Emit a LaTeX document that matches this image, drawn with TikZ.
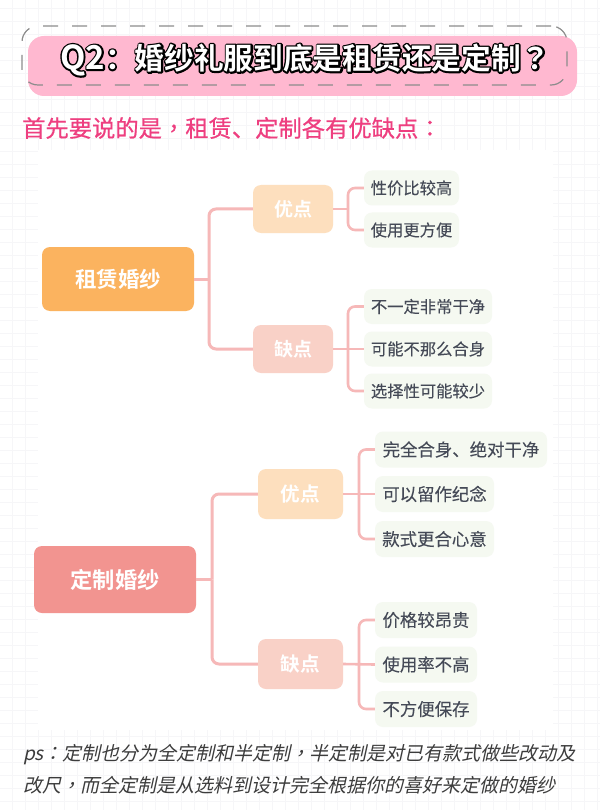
\documentclass[tikz,border=0pt]{standalone}
\usepackage{fontspec}
\setmainfont{Noto Sans CJK SC}
\newfontfamily\cjkb{Noto Sans CJK SC Bold}
\newfontfamily\tcb{Noto Sans CJK TC Bold}
\newfontfamily\cjksub[FakeBold=0.6]{Noto Sans CJK SC}
\newfontfamily\tcsub[FakeBold=0.6]{Noto Sans CJK TC}
\newfontfamily\cjkit[FakeSlant=0.22]{Noto Sans CJK SC}
\newfontfamily\tcit[FakeSlant=0.22]{Noto Sans CJK TC}
\newfontfamily\cjkleaf[FakeBold=0.12]{Noto Sans CJK SC}
\definecolor{pinkbar}{HTML}{FFB8D0}
\definecolor{dashgray}{HTML}{8C8C8C}
\definecolor{subpink}{HTML}{EE3F80}
\definecolor{rootA}{HTML}{FBB35F}
\definecolor{rootB}{HTML}{F29490}
\definecolor{goodc}{HTML}{FDDFBE}
\definecolor{badc}{HTML}{F9D1C7}
\definecolor{leafc}{HTML}{F5F9F1}
\definecolor{connc}{HTML}{F6B8B8}
\definecolor{leaft}{HTML}{454A57}
\definecolor{gridc}{HTML}{F6F6F8}
\definecolor{pstext}{HTML}{3C3C3C}
\newcommand{\titletext}{{\fontsize{33}{33}\selectfont Q2}：婚纱礼服到底是租赁还是定制{\tcb ？}}
\tikzset{
  x=1pt,y=-1pt,
  box/.style={rounded corners=#1,inner sep=0pt,align=center},
  rootbox/.style={box=8pt,text=white,font=\cjkb\fontsize{21.5}{24}\selectfont},
  midbox/.style={box=8pt,minimum width=80pt,minimum height=48pt,text=white,font=\cjkb\fontsize{19}{22}\selectfont},
  leafbox/.style={box=8pt,fill=leafc,minimum height=35pt,text=leaft,font=\cjkleaf\fontsize{16.3}{20}\selectfont},
  leafboxb/.style={box=8pt,fill=leafc,minimum height=36pt,text=leaft,font=\cjkleaf\fontsize{17.4}{20}\selectfont},
  conn/.style={draw=connc,line width=3pt,rounded corners=7pt},
  connleaf/.style={draw=connc,line width=2.6pt,rounded corners=7pt},
}
\begin{document}
\begin{tikzpicture}
\useasboundingbox (0,0) rectangle (600,810);
\fill[white] (0,0) rectangle (600,810);
% background grid
\foreach \g in {12,25,...,600} \draw[gridc,line width=0.7pt] (\g,0) -- (\g,810);
\foreach \g in {8,21,...,810} \draw[gridc,line width=0.7pt] (0,\g) -- (600,\g);
\fill[white] (38,150) rectangle (553,730);
% title
\node[rounded corners=16pt,fill=pinkbar,minimum width=549pt,minimum height=60pt,inner sep=0pt] (bar) at (302.5,66) {};
\node[draw=dashgray,line width=1.2pt,dash pattern=on 15pt off 14pt,rounded corners=16pt,minimum width=545pt,minimum height=59pt,inner sep=0pt] (dash) at (294.5,55.5) {};
\node[anchor=west,inner sep=0pt] (title) at (60,60) {\cjkb\fontsize{29.7}{32}\selectfont\rlap{\special{pdf:code q 2 Tr 3.4 w 1 j 0 0 0 RG 0 0 0 rg}\titletext\special{pdf:code 0 Tr Q}}\textcolor{white}{\titletext}};
\node[anchor=west,inner sep=0pt,text=subpink] (sub) at (22,128) {\cjksub\fontsize{23.3}{26}\selectfont 首先要说的是{\tcsub ，}租赁、定制各有优缺点{\tcsub ：}};
% rent
\node[rootbox,fill=rootA,minimum width=152pt,minimum height=64pt] (ra) at (118,279) {租赁婚纱};
\node[midbox,fill=goodc] (ag) at (293,209) {优点};
\node[midbox,fill=badc] (ab) at (293,349) {缺点};
\node[leafbox,minimum width=95pt] (a1) at (411.5,188) {性价比较高};
\node[leafbox,minimum width=95pt] (a2) at (411.5,230) {使用更方便};
\node[leafbox,minimum width=128pt] (a3) at (428,306.5) {不一定非常干净};
\node[leafbox,minimum width=128pt] (a4) at (428,349) {可能不那么合身};
\node[leafbox,minimum width=128pt] (a5) at (428,391) {选择性可能较少};
\coordinate (sa) at (209,279);
\coordinate (sag) at (348,209);
\coordinate (sab) at (348,349);
\draw[conn] (ra.east) -- (sa);
\draw[conn] (sa) |- (ag.west);
\draw[conn] (sa) |- (ab.west);
\draw[connleaf] (ag.east) -- (sag);
\draw[connleaf] (sag) |- (a1.west);
\draw[connleaf] (sag) |- (a2.west);
\draw[connleaf] (ab.east) -- (a4.west);
\draw[connleaf] (sab) |- (a3.west);
\draw[connleaf] (sab) |- (a5.west);
% custom
\node[rootbox,fill=rootB,minimum width=162pt,minimum height=67pt,font=\cjkb\fontsize{22.3}{24}\selectfont] (rb) at (115,579.5) {定制婚纱};
\node[midbox,fill=goodc,minimum width=85pt,minimum height=50pt,font=\cjkb\fontsize{19.6}{22}\selectfont] (bg) at (300.5,494) {优点};
\node[midbox,fill=badc,minimum width=85pt,minimum height=50pt,font=\cjkb\fontsize{19.6}{22}\selectfont] (bb) at (300.5,664) {缺点};
\node[leafboxb,minimum width=172pt] (b1) at (461,449.5) {完全合身、绝对干净};
\node[leafboxb,minimum width=119pt] (b2) at (434.5,494) {可以留作纪念};
\node[leafboxb,minimum width=119pt] (b3) at (434.5,539) {款式更合心意};
\node[leafboxb,minimum width=102pt] (b4) at (426,620) {价格较昂贵};
\node[leafboxb,minimum width=102pt] (b5) at (426,664.5) {使用率不高};
\node[leafboxb,minimum width=102pt] (b6) at (426,709) {不方便保存};
\coordinate (sb) at (212,579.5);
\coordinate (sbg) at (359,494);
\coordinate (sbb) at (359,664);
\draw[conn] (rb.east) -- (sb);
\draw[conn] (sb) |- (bg.west);
\draw[conn] (sb) |- (bb.west);
\draw[connleaf] (bg.east) -- (b2.west);
\draw[connleaf] (sbg) |- (b1.west);
\draw[connleaf] (sbg) |- (b3.west);
\draw[connleaf] (bb.east) -- (b5.west);
\draw[connleaf] (sbb) |- (b4.west);
\draw[connleaf] (sbb) |- (b6.west);
% note
\node[anchor=west,inner sep=0pt,text=pstext] (n1) at (23,755) {\cjkit\fontsize{19}{22}\selectfont ps{\tcit ：}定制也分为全定制和半定制{\tcit ，}半定制是对已有款式做些改动及};
\node[anchor=west,inner sep=0pt,text=pstext] (n2) at (23,785) {\cjkit\fontsize{19}{22}\selectfont 改尺{\tcit ，}而全定制是从选料到设计完全根据你的喜好来定做的婚纱};
\end{tikzpicture}
\end{document}
